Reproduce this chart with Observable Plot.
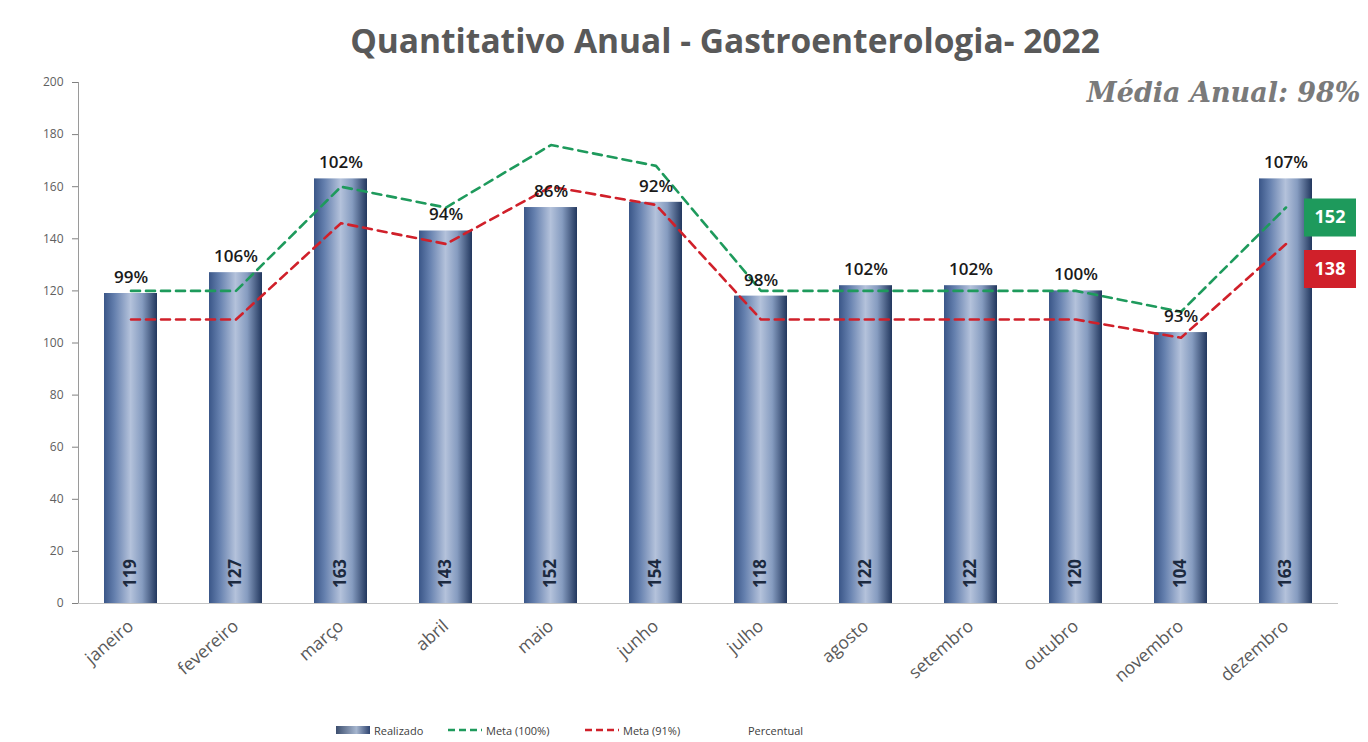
<!DOCTYPE html>
<html>
<head>
<meta charset="utf-8">
<script src="https://cdn.jsdelivr.net/npm/d3@7"></script>
<script src="https://cdn.jsdelivr.net/npm/@observablehq/plot@0.6"></script>
<style>
  html, body { margin: 0; padding: 0; background: #ffffff; }
  #wrap { position: relative; width: 1368px; height: 742px; overflow: hidden; font-family: "Open Sans", sans-serif; }
  #title { height: 70px; line-height: 80px; text-align: center; padding-left: 82px; box-sizing: border-box;
           font-family: "Open Sans", sans-serif; font-weight: 700; font-size: 33.5px; color: #595959; white-space: nowrap; }
  #legend { position: absolute; top: 720px; left: 0; width: 1368px; height: 20px; font-size: 11px; color: #404040; }
  .lg { position: absolute; top: 0; display: flex; align-items: center; height: 20px; gap: 4px; }
</style>
</head>
<body>
<div id="wrap">
  <div id="title">Quantitativo Anual - Gastroenterologia- 2022</div>
  <div id="chart"></div>
  <div id="legend"></div>
</div>
<script>
const meses = ["janeiro","fevereiro","março","abril","maio","junho","julho","agosto","setembro","outubro","novembro","dezembro"];
const realizado = [119,127,163,143,152,154,118,122,122,120,104,163];
const meta100 = [120,120,160,152,176,168,120,120,120,120,112,152];
const meta91 = [109,109,146,138,160,153,109,109,109,109,102,138];
const percentual = [99,106,102,94,86,92,98,102,102,100,93,107];
const yTicks = [0,20,40,60,80,100,120,140,160,180,200];
const mediaAnual = "Média Anual: 98%";

const data = meses.map((m, i) => ({mes: m, realizado: realizado[i], meta100: meta100[i], meta91: meta91[i], pct: percentual[i]}));
const ultimo = data[data.length - 1];

const GREEN = "#1e9a5c";
const RED = "#d0202a";

const boxSymbol = { draw(ctx) { ctx.rect(-26, -19, 52, 38); } };

const plot = Plot.plot({
  width: 1368,
  height: 635,
  marginLeft: 78,
  marginRight: 30,
  marginTop: 12,
  marginBottom: 102,
  style: { fontFamily: "Open Sans, sans-serif", background: "transparent", overflow: "visible" },
  x: { domain: meses, paddingInner: 0.5, paddingOuter: 0.25, label: null },
  y: { domain: [0, 200], label: null },
  marks: [
    Plot.axisY({ ticks: yTicks, tickSize: 6, tickPadding: 9, fontSize: 12, fill: "#606060", stroke: "#808080", label: null }),
    Plot.ruleX([0], { x: () => meses[0], dx: -52.5, y1: 0, y2: 200, stroke: "#9a9a9a", strokeWidth: 1 }),
    Plot.axisX({ tickSize: 0, tickPadding: 20, tickRotate: -41, fontSize: 17.5, fontWeight: 500, fill: "#595959", label: null }),
    Plot.barY(data, { x: "mes", y: "realizado", fill: "url(#barGrad)" }),
    Plot.ruleY([0], { stroke: "#c4c4c4", strokeWidth: 1.2 }),
    Plot.line(data, { x: "mes", y: "meta100", stroke: GREEN, strokeWidth: 2.6, strokeDasharray: "9,6", curve: "linear" }),
    Plot.line(data, { x: "mes", y: "meta91", stroke: RED, strokeWidth: 2.6, strokeDasharray: "9,6", curve: "linear" }),
    Plot.text(data, { x: "mes", y: "realizado", text: d => d.pct + "%", dy: -16, fontSize: 17, fontWeight: 600, fill: "#1a1a1a" }),
    Plot.text(data, { x: "mes", y: () => 0, text: d => String(d.realizado), rotate: -90, dy: -30, fontSize: 17, fontWeight: 700, fill: "#1c2a40" }),
    Plot.dot([ultimo], { x: "mes", y: "meta100", symbol: boxSymbol, fill: GREEN, stroke: null, dx: 44, dy: 10 }),
    Plot.text([ultimo], { x: "mes", y: "meta100", text: d => String(d.meta100), dx: 44, dy: 10, fontSize: 18, fontWeight: 700, fill: "#ffffff" }),
    Plot.dot([ultimo], { x: "mes", y: "meta91", symbol: boxSymbol, fill: RED, stroke: null, dx: 44, dy: 25 }),
    Plot.text([ultimo], { x: "mes", y: "meta91", text: d => String(d.meta91), dx: 44, dy: 25, fontSize: 18, fontWeight: 700, fill: "#ffffff" }),
    Plot.text([mediaAnual], { frameAnchor: "top-right", text: d => d, dx: 22, dy: 0, lineAnchor: "top", fontSize: 27, fontWeight: 700, fontStyle: "italic", fontFamily: "DejaVu Serif", fill: "#7a7a7a" })
  ]
});

const svg = d3.select(plot);
const defs = svg.insert("defs", ":first-child");
function addGrad(sel, id) {
  const g = sel.append("linearGradient").attr("id", id).attr("x1", 0).attr("x2", 1).attr("y1", 0).attr("y2", 0);
  [[0, "#3a5688"], [0.2, "#6580ae"], [0.5, "#b4c2db"], [0.72, "#869cc0"], [1, "#22375e"]].forEach(([o, c]) =>
    g.append("stop").attr("offset", o).attr("stop-color", c));
}
addGrad(defs, "barGrad");
document.getElementById("chart").appendChild(plot);

// Legend
const legend = document.getElementById("legend");
const items = [
  { left: 336, label: "Realizado", type: "bar" },
  { left: 448, label: "Meta (100%)", type: "line", color: GREEN },
  { left: 585, label: "Meta (91%)", type: "line", color: RED },
  { left: 748, label: "Percentual", type: "none" }
];
items.forEach(it => {
  const div = document.createElement("div");
  div.className = "lg";
  div.style.left = it.left + "px";
  let sw = "";
  if (it.type === "bar") {
    sw = `<svg width="34" height="8"><defs><linearGradient id="lgGrad" x1="0" x2="1"><stop offset="0" stop-color="#3c4e6e"/><stop offset="0.6" stop-color="#a6b6cf"/><stop offset="1" stop-color="#2e4470"/></linearGradient></defs><rect width="34" height="8" fill="url(#lgGrad)"/></svg>`;
  } else if (it.type === "line") {
    sw = `<svg width="34" height="8"><line x1="0" x2="34" y1="4" y2="4" stroke="${it.color}" stroke-width="2.5" stroke-dasharray="7,4"/></svg>`;
  }
  div.innerHTML = sw + `<span>${it.label}</span>`;
  legend.appendChild(div);
});
</script>
</body>
</html>
